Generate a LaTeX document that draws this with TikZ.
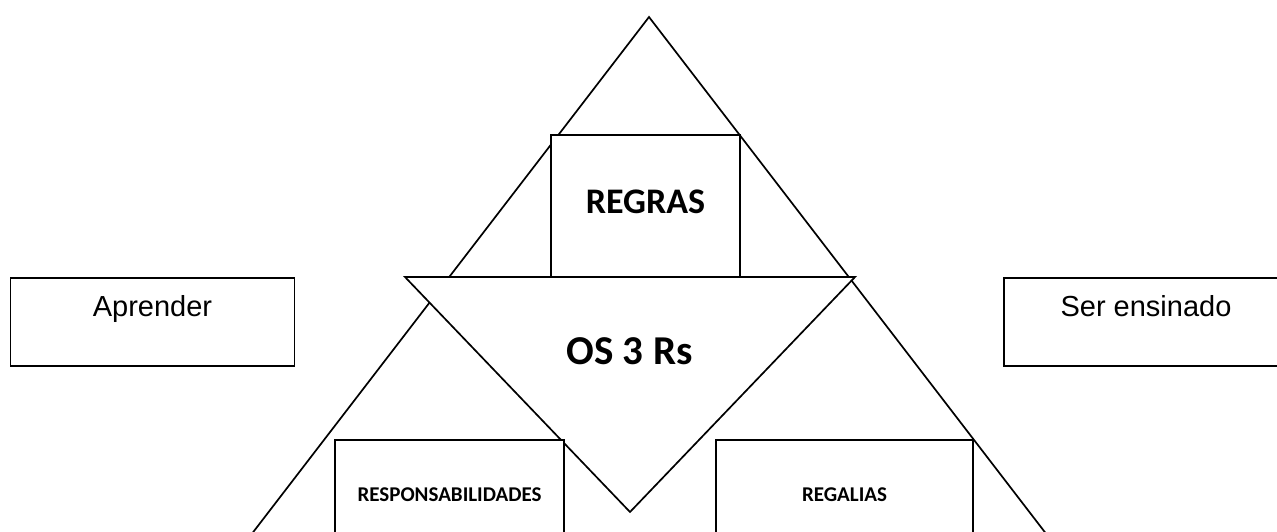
\documentclass[tikz,border=0pt]{standalone}
\usepackage{fontspec}
\newfontfamily\arialfont{Liberation Sans}
\newfontfamily\calibrifont{Carlito}
\usepackage{tikz}
\usetikzlibrary{positioning}

\begin{document}
\begin{tikzpicture}[x=1pt, y=-1pt, line width=1.7pt]
    % Define styles
    \tikzstyle{sidebox} = [rectangle, draw=black, fill=white, minimum width=284pt, minimum height=88pt, inner sep=0pt, text height=0pt, text depth=12pt, font=\arialfont\fontsize{29}{34}\selectfont]
    \tikzstyle{topbox} = [rectangle, draw=black, fill=white, minimum width=189pt, minimum height=142pt, inner sep=0pt, text height=14pt, text depth=0pt, font=\calibrifont\bfseries\fontsize{36}{42}\selectfont]
    \tikzstyle{lowbox} = [rectangle, draw=black, fill=white, minimum height=120pt, inner sep=0pt, text height=2pt, text depth=0pt, font=\calibrifont\bfseries\fontsize{21}{25}\selectfont]
    \tikzstyle{bigtext} = [inner sep=0pt, anchor=base, font=\calibrifont\bfseries\fontsize{41}{48}\selectfont]

    \useasboundingbox (0,0) rectangle (1277,532);
    \clip (0,0) rectangle (1277,532);

    % Big triangle (base below the page)
    \draw (649,17) -- (1097,600) -- (201,600) -- cycle;

    % Rules box
    \node[topbox] (regras) at (645.5,206) {REGRAS};

    % Inverted triangle
    \coordinate (invleft) at (405,277);
    \coordinate (invright) at (855,277);
    \coordinate (invtip) at (630,512);
    \filldraw[fill=white] (invleft) -- (invright) -- (invtip) -- cycle;
    \node[bigtext] (os3rs) at (629.5,364) {OS 3 Rs};

    % Lower boxes
    \node[lowbox, minimum width=229pt] (resp) at (449.5,500) {RESPONSABILIDADES};
    \node[lowbox, minimum width=257pt] (regalias) at (844.5,500) {REGALIAS};

    % Side boxes
    \node[sidebox] (aprender) at (152.5,322) {Aprender};
    \node[sidebox] (ensinado) at (1146,322) {Ser ensinado};

\end{tikzpicture}
\end{document}
